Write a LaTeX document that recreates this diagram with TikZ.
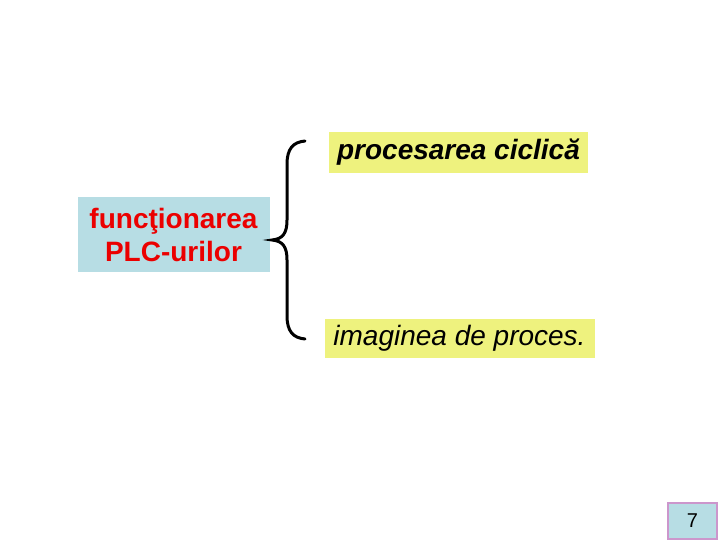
\documentclass[tikz,border=0pt]{standalone}
\usepackage{fontspec}
\setmainfont{Liberation Sans}
\definecolor{boxblue}{RGB}{183,221,228}
\definecolor{boxyellow}{RGB}{238,242,126}
\definecolor{pagepink}{RGB}{204,150,204}
\definecolor{textred}{RGB}{235,0,0}
\begin{document}
\begin{tikzpicture}[x=1pt,y=-1pt]
        \useasboundingbox (0,0) rectangle (720,540);

        \begin{scope}[every node/.style={fill=boxblue,inner sep=0pt,align=center}]
          \node[minimum width=192,minimum height=75,text=textred,
                font=\fontsize{28}{33}\selectfont\bfseries] (func) at (173.5,234.5) {funcţionarea\\PLC-urilor};
          \node[minimum width=49,minimum height=36,draw=pagepink,line width=1.2pt,
                font=\fontsize{20}{24}\selectfont] (pagina) at (692.5,521) {7};
        \end{scope}

        \begin{scope}[every node/.style={fill=boxyellow,inner sep=0pt,
                      font=\fontsize{28}{33}\selectfont\itshape}]
          \node[minimum width=259,minimum height=41,font=\fontsize{28}{33}\selectfont\bfseries\itshape] (ciclic) at (458.5,152.5) {procesarea ciclică};
          \node[minimum width=270,minimum height=39] (imagine) at (459.5,338) {imaginea de proces.};
        \end{scope}

        % acolada
        \draw[line width=3pt,line cap=round]
          (305,141) .. controls (293,142) and (287,149) .. (287,164) -- (287,220)
          .. controls (287,233) and (283,239) .. (272,240)
          .. controls (283,241) and (287,247) .. (287,260) -- (287,316)
          .. controls (287,331) and (293,338) .. (305,339);

\end{tikzpicture}
\end{document}
